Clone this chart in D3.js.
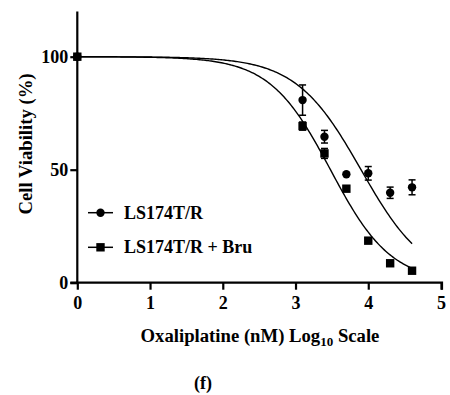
<!DOCTYPE html>
<html lang="en">
<head>
<meta charset="UTF-8">
<title>Cell viability</title>
<script src="https://d3js.org/d3.v7.min.js"></script>
<style>
    body { margin: 0; background: #fff; }
    svg { display: block; }
</style>
</head>
<body>
<svg width="450" height="395"></svg>
<script>
// log10 concentration (nM)
var logConc = [0, 3.097, 3.398, 3.699, 4.0, 4.301, 4.602];
var seriesNames = ["LS174T/R", "LS174T/R + Bru"];
var viabR = [100, 80.8, 64.6, 48.0, 48.4, 39.8, 42.2];
var errR = [0, 6.7, 2.8, 0, 3.0, 2.5, 3.3];
var viabBru = [100, 69.3, 57.2, 41.6, 18.6, 8.6, 5.3];
var errBru = [0, 1.8, 2.2, 0, 0, 0, 0];
// fitted curves: [top, bottom, logIC50, hill]
var fitR = [100, 0, 3.9, 0.97];
var fitBru = [100, 0, 3.48, 1.04];
var xTicks = [0, 1, 2, 3, 4, 5];
var yTicks = [0, 50, 100];

var FONT = "'Liberation Serif', 'Times New Roman', Times, 'DejaVu Serif', serif";
var svg = d3.select("svg");
var x = d3.scaleLinear().domain([0, 5]).range([77.3, 441]);
var y = d3.scaleLinear().domain([0, 120]).range([282.7, 11.5]);

function logistic(p, v) {
    return p[1] + (p[0] - p[1]) / (1 + Math.pow(10, (v - p[2]) * p[3]));
}

// curves
var line = d3.line().x(d => x(d[0])).y(d => y(d[1]));
[fitR, fitBru].forEach(p => {
    var pts = d3.range(0, 4.6021, 0.02).concat([4.602]).map(v => [v, logistic(p, v)]);
    svg.append("path").attr("d", line(pts))
        .attr("fill", "none").attr("stroke", "#000").attr("stroke-width", 1.4);
});

// error bars
function errorBars(vals, errs) {
    var g = svg.append("g").attr("stroke", "#000").attr("stroke-width", 1.5);
    logConc.forEach((c, i) => {
        if (!errs[i]) return;
        var cx = x(c);
        g.append("line").attr("x1", cx).attr("x2", cx)
            .attr("y1", y(vals[i] - errs[i])).attr("y2", y(vals[i] + errs[i]));
        [vals[i] - errs[i], vals[i] + errs[i]].forEach(v => {
            g.append("line").attr("x1", cx - 3.5).attr("x2", cx + 3.5)
                .attr("y1", y(v)).attr("y2", y(v));
        });
    });
}
errorBars(viabR, errR);
errorBars(viabBru, errBru);

// markers
svg.append("g").selectAll("circle").data(logConc).enter().append("circle")
    .attr("cx", d => x(d)).attr("cy", (d, i) => y(viabR[i])).attr("r", 4.2).attr("fill", "#000");
svg.append("g").selectAll("rect").data(logConc).enter().append("rect")
    .attr("x", d => x(d) - 4.2).attr("y", (d, i) => y(viabBru[i]) - 4.2)
    .attr("width", 8.4).attr("height", 8.4).attr("fill", "#000");

// axes
var xAxis = svg.append("g").attr("transform", "translate(0," + y(0) + ")")
    .call(d3.axisBottom(x).tickValues(xTicks).tickSize(7).tickPadding(7).tickFormat(d3.format("d")));
var yAxis = svg.append("g").attr("transform", "translate(" + x(0) + ",0)")
    .call(d3.axisLeft(y).tickValues(yTicks).tickSize(7).tickPadding(2).tickFormat(d3.format("d")));
[xAxis, yAxis].forEach(a => {
    a.attr("font-family", null).attr("font-size", null);
    a.select(".domain").attr("stroke-width", 2.2);
    a.selectAll(".tick line").attr("stroke-width", 2.2);
    a.selectAll("text").style("font-size", "18px");
});
xAxis.select(".domain").attr("d", "M" + (x(0) - 1) + ",0H" + (x(5) + 1) + "V7");
yAxis.select(".domain").attr("d", "M-7," + y(0) + "H0V" + y(120));

// axis titles
var xt = svg.append("text").attr("x", 260).attr("y", 342).attr("text-anchor", "middle").style("font-size", "18.7px");
xt.append("tspan").text("Oxaliplatine (nM) Log");
xt.append("tspan").style("font-size", "13px").attr("dy", 4).text("10");
xt.append("tspan").attr("dy", -4).text(" Scale");
svg.append("text").attr("transform", "translate(32,144) rotate(-90)")
    .attr("text-anchor", "middle").style("font-size", "18.7px").text("Cell Viability (%)");
svg.append("text").attr("x", 203).attr("y", 389).attr("text-anchor", "middle")
    .style("font-size", "18px").text("(f)");

// legend
var legY = [212.7, 247.3];
seriesNames.forEach((name, i) => {
    var g = svg.append("g").attr("transform", "translate(0," + legY[i] + ")");
    g.append("line").attr("x1", 88).attr("x2", 113).attr("stroke", "#000").attr("stroke-width", 1.5);
    if (i === 0) g.append("circle").attr("cx", 100.5).attr("r", 4.2).attr("fill", "#000");
    else g.append("rect").attr("x", 96.3).attr("y", -4.2).attr("width", 8.4).attr("height", 8.4).attr("fill", "#000");
    g.append("text").attr("x", 124).attr("y", 6).style("font-size", "18px").text(name);
});

svg.selectAll("text").style("font-family", FONT).style("font-weight", "bold").style("fill", "#000");
</script>
</body>
</html>
